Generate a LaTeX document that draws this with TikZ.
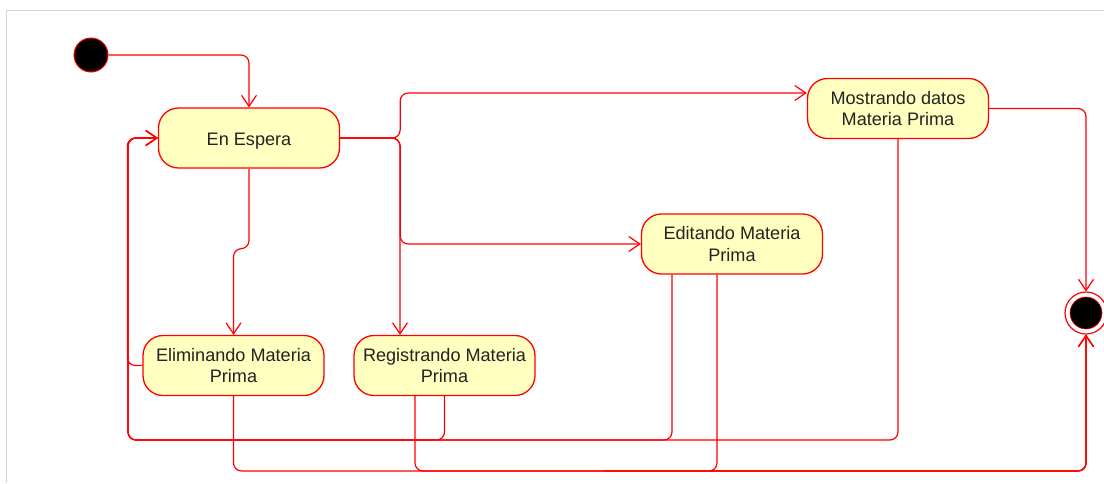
\documentclass[tikz,border=0pt]{standalone}
\usepackage{fontspec}
\setmainfont{Liberation Sans}
\usetikzlibrary{arrows.meta,calc}
\definecolor{statefill}{HTML}{FFFFC0}
\definecolor{statetext}{HTML}{222222}
\definecolor{framegray}{HTML}{D4D4D4}
\tikzset{
  statebox/.style={draw=red, line width=1.3pt, fill=statefill, rounded corners=20pt,
    minimum width=181pt, minimum height=60pt, inner sep=0pt, align=center,
    text=statetext, font=\fontsize{18.1}{21.5}\selectfont},
  tr/.style={draw=red, line width=1.2pt, rounded corners=8pt,
    -{Straight Barb[length=11pt,width=15pt,line width=1.2pt]}},
}
\begin{document}
\begin{tikzpicture}[x=1pt,y=-1pt]
\useasboundingbox (0,0) rectangle (1104,483);
% page frame
\draw[framegray, line width=1.5pt] (6.5,483) -- (6.5,10.5) -- (1104,10.5);

% states
\node[circle, draw=red, fill=black, line width=1pt, minimum size=34pt, inner sep=0pt] (init) at (91,55) {};
\node[statebox] (wait) at (249,138) {\rule{0pt}{19.5pt}En Espera};
\node[statebox] (elim) at (233.5,365.5) {Eliminando Materia\\Prima};
\node[statebox] (reg) at (444.5,365.5) {Registrando Materia\\Prima};
\node[statebox] (edit) at (732,244) {Editando Materia\\Prima};
\node[statebox] (show) at (898,108.5) {Mostrando datos\\Materia Prima};
\node[circle, draw=red, fill=white, line width=1.2pt, minimum size=42pt, inner sep=0pt] (final) at (1086,313) {};
\fill[black, draw=red, line width=0.6pt] (final.center) circle (16pt);

% routing points
\coordinate (loop) at (128,440);
\coordinate (low) at (600,471);

% transitions out of the initial state and En Espera
\draw[tr] (init.east) -| (wait.north);
\draw[tr] (wait.south) -- ++(0,80) -| (elim.north);
\draw[tr] (wait.east) -| ([xshift=-44.5pt]reg.north);
\draw[tr] (wait.east) -- ++(60,0) |- (edit.west);
\draw[tr] (wait.east) -- ++(60,0) |- ([yshift=15.5pt]show.west);

% transitions back to En Espera
\draw[tr] (elim.west) -- ++(-15,0) |- (wait.west);
\draw[tr] (reg.south) |- (loop) |- (wait.west);
\draw[tr] ([xshift=-60pt]edit.south) |- (loop) |- (wait.west);
\draw[tr] (show.south) |- (loop) |- (wait.west);

% transitions to the final state
\draw[tr] (elim.south) |- (low) -| (final.south);
\draw[tr] ([xshift=-29.5pt]reg.south) |- (low) -| (final.south);
\draw[tr] ([xshift=-15pt]edit.south) |- (low) -| (final.south);
\draw[tr] (show.east) -| (final.north);
\end{tikzpicture}
\end{document}
